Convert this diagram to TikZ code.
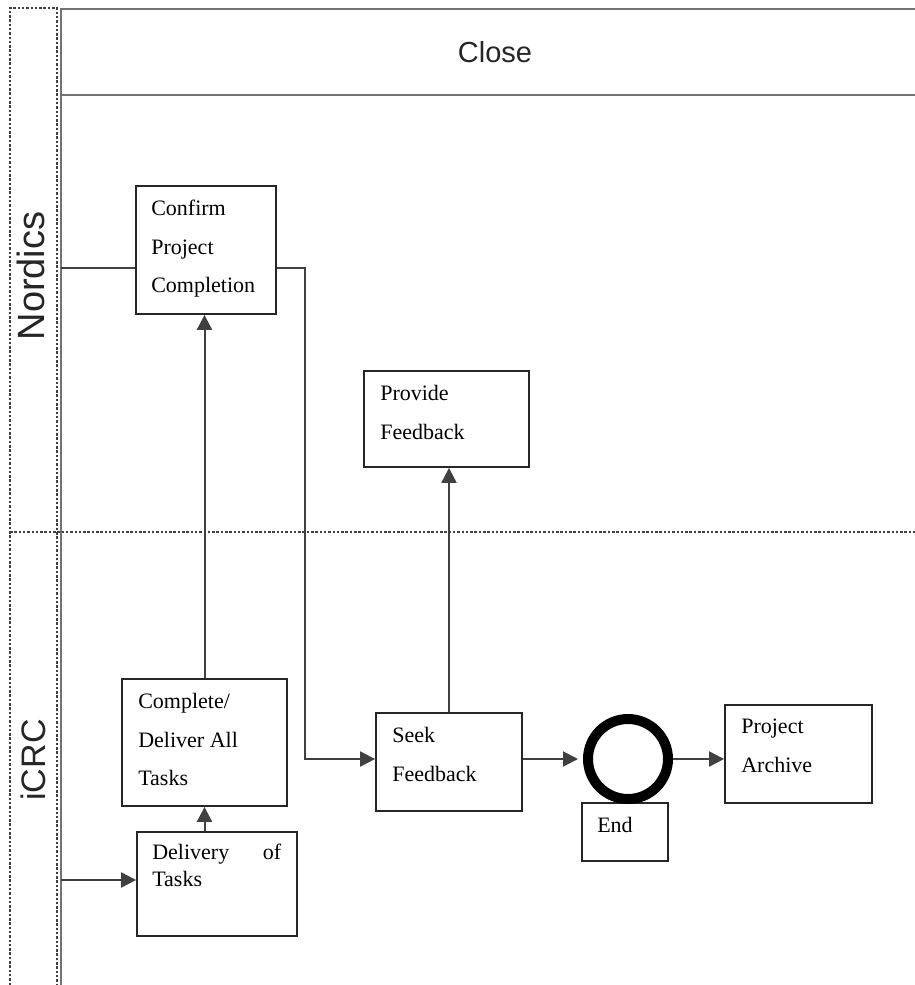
\documentclass[tikz,border=0pt]{standalone}
\usepackage{fontspec}
\setmainfont{Liberation Serif}
\newfontfamily\lanefont{Liberation Sans}
\usetikzlibrary{arrows.meta}

\begin{document}
\begin{tikzpicture}[x=1pt,y=-1pt,
  frame/.style={draw=black!55, line width=2.4pt},
  lanedot/.style={draw=black!75, line width=1.3pt, dash pattern=on 2.5pt off 1.8pt},
  box/.style={draw=black!85, line width=1.8pt, rectangle, inner sep=0pt},
  txt/.style={inner sep=0pt, anchor=north west, align=left,
    font=\fontsize{22}{38.5}\selectfont, text=black},
  flow/.style={draw=black!75, line width=2pt},
  arr/.style={flow, -{Triangle[length=15pt,width=15pt]}},
  lanelabel/.style={font=\lanefont, text=black!85, rotate=90, inner sep=0pt}
]
\useasboundingbox (0,0) rectangle (915,985);

% swimlane frame
\draw[lanedot] (10,985) -- (10,8) -- (57,8) -- (57,985);
\draw[lanedot] (10,532) -- (915,532);
\draw[frame] (61,9) -- (915,9);
\draw[frame] (61,95) -- (915,95);
\draw[frame] (61,8) -- (61,985);

\node[font=\lanefont\fontsize{29}{34}\selectfont, text=black!85] (title) at (495,52) {Close};
\node[lanelabel, font=\lanefont\fontsize{38}{44}\selectfont] (nordics) at (31,276) {Nordics};
\node[lanelabel, font=\lanefont\fontsize{34}{40}\selectfont] (icrc) at (33,760) {iCRC};

% activity boxes
\node[box, minimum width=140pt, minimum height=128pt] (confirm) at (206,250) {};
\node[box, minimum width=165pt, minimum height=96pt] (provide) at (446.5,419) {};
\node[box, minimum width=165pt, minimum height=127pt] (complete) at (204.5,742.5) {};
\node[box, minimum width=160pt, minimum height=104pt] (delivery) at (217,884) {};
\node[box, minimum width=146pt, minimum height=98pt] (seek) at (449,762) {};
\node[box, minimum width=86pt, minimum height=58pt] (endbox) at (625,832) {};
\node[box, minimum width=147pt, minimum height=98pt] (archive) at (798.5,754) {};
\node[circle, draw=black, line width=10pt, minimum size=80pt, inner sep=0pt] (endc) at (628,759) {};

% box texts
\node[txt] (tconfirm) at ([shift={(16,15)}]confirm.north west) {Confirm\\Project\\Completion};
\node[txt] (tprovide) at ([shift={(17,15)}]provide.north west) {Provide\\Feedback};
\node[txt] (tcomplete) at ([shift={(17,15)}]complete.north west) {Complete/\\Deliver All\\Tasks};
\node[txt, font=\fontsize{22}{27}\selectfont] (tdelivery) at ([shift={(16,13)}]delivery.north west)
  {\makebox[129pt][s]{Delivery\hfill of}\\Tasks};
\node[txt] (tseek) at ([shift={(17,15)}]seek.north west) {Seek\\Feedback};
\node[txt] (tend) at ([shift={(16,15)}]endbox.north west) {End};
\node[txt] (tarchive) at ([shift={(17,15)}]archive.north west) {Project\\Archive};

% flow connectors
\coordinate (nin) at (61,268);
\coordinate (iin) at (61,880);
\draw[flow] (nin) -- (nin -| confirm.west);
\draw[arr] (iin) -- (iin -| delivery.west);
\draw[arr] (delivery.north -| complete.south) -- (complete.south);
\draw[arr] (complete.north) -- (complete.north |- confirm.south);
\draw[arr] ([yshift=-18pt]confirm.east) -- ++(28,0) |- (endc.west -| seek.west);
\draw[arr] (seek.north) -- (seek.north |- provide.south);
\draw[arr, shorten >=5pt] (endc.west -| seek.east) -- (endc.west);
\draw[arr] (endc.east) -- (endc.east -| archive.west);
\end{tikzpicture}
\end{document}
